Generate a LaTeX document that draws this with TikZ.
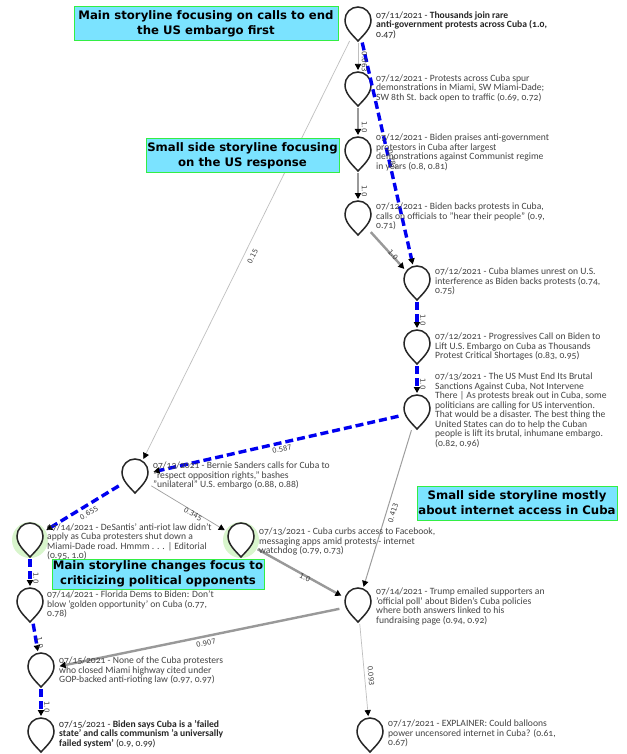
\documentclass[tikz,border=0pt]{standalone}
\usepackage{fontspec}
\setmainfont[Numbers=OldStyle]{Carlito}
\newfontfamily\boxfont{DejaVu Sans}
\newfontfamily\lablefont{DejaVu Sans}
\usetikzlibrary{arrows.meta}
\definecolor{bluee}{HTML}{0000F0}
\definecolor{txtgray}{HTML}{444444}
\definecolor{boxfill}{HTML}{7BE3FF}
\definecolor{boxline}{HTML}{33EE44}
\definecolor{halo}{HTML}{D8F5CC}
\tikzset{
  anchorbox/.style={circle,minimum size=38pt,inner sep=0pt,outer sep=0pt},
  tip/.style={-{Triangle[length=6pt,width=6.2pt,color=black]}},
  mainedge/.style={tip,draw=bluee,line width=3.4pt,dash pattern=on 8pt off 4pt},
  fatedge/.style={tip,draw=black!40,line width=2.4pt},
  midedge/.style={tip,draw=black!38,line width=1pt},
  thinedge/.style={tip,draw=black!25,line width=.7pt},
  wlab/.style={font=\lablefont\fontsize{7}{7}\selectfont,text=black!75,inner sep=0pt},
  desc/.style={anchor=north west,align=left,text=txtgray,inner sep=0pt,font=\fontsize{9.6}{9.45}\selectfont},
  bdesc/.style={desc,text=black!85},
  storybox/.style={draw=boxline,fill=boxfill,line width=1pt,align=center,inner sep=0pt,font=\boxfont\bfseries\fontsize{11.7}{15}\selectfont,text=black},
}
\newcommand{\teardrop}[3]{% name, cx, top
  \node[anchorbox] (#1) at (#2,#3+17) {};
  \draw[black!85,line width=1.5pt,line join=miter,fill=white]
    (#2,#3+34) .. controls (#2-6,#3+27.5) and (#2-13,#3+21.5) .. (#2-13,#3+13)
    arc[start angle=180,end angle=360,radius=13]
    .. controls (#2+13,#3+21.5) and (#2+6,#3+27.5) .. cycle;
}
\begin{document}
\begin{tikzpicture}[x=1pt,y=-1pt]
\useasboundingbox (0,0) rectangle (626,754);
\fill[white] (0,0) rectangle (626,754);
\fill[halo] (30,540) circle (18);
\fill[halo] (241,540) circle (18);
\teardrop{a}{358}{7}
\teardrop{b}{358}{72}
\teardrop{c}{358}{137}
\teardrop{d}{358}{201}
\teardrop{e}{417}{266}
\teardrop{f}{417}{330}
\teardrop{g}{417}{395}
\teardrop{h}{135}{459}
\teardrop{i}{30}{523}
\teardrop{j}{241}{523}
\teardrop{k}{30}{588}
\teardrop{l}{41}{653}
\teardrop{m}{41}{718}
\teardrop{n}{358}{588}
\teardrop{o}{370}{718}
% connectors
\draw[thinedge] (a) -- (b);
\draw[thinedge] (a) -- (h);
\draw[mainedge] (a) -- (e);
\draw[fatedge] (b) -- (c);
\draw[fatedge] (c) -- (d);
\draw[fatedge] (d) -- (e);
\draw[mainedge] (e) -- (f);
\draw[mainedge] (f) -- (g);
\draw[mainedge] (g) -- (h);
\draw[midedge] (g) -- (n);
\draw[mainedge] (h) -- (i);
\draw[midedge,line width=.7pt] (h) -- (j);
\draw[mainedge] (i) -- (k);
\draw[fatedge] (j) -- (n);
\draw[mainedge] (k) -- (l);
\draw[mainedge] (l) -- (m);
\draw[fatedge] (n) -- (l);
\draw[thinedge] (n) -- (o);
% weights
\node[wlab,rotate=-90] (wab) at (364.5,62) {0.063};
\node[wlab,rotate=-77] (wae) at (392,160) {0.787};
\node[wlab,rotate=63] (wah) at (252.7,256) {0.15};
\node[wlab,rotate=-90] (wbc) at (364.5,127) {1.0};
\node[wlab,rotate=-90] (wcd) at (364.5,191) {1.0};
\node[wlab,rotate=-48] (wde) at (393,255) {1.0};
\node[wlab,rotate=-90] (wef) at (423,320) {1.0};
\node[wlab,rotate=-90] (wfg) at (423,384) {1.0};
\node[wlab,rotate=13] (wgh) at (282,449) {0.587};
\node[wlab,rotate=73] (wgn) at (393,513) {0.413};
\node[wlab,rotate=31] (whi) at (89,513) {0.655};
\node[wlab,rotate=-31] (whj) at (193,514) {0.345};
\node[wlab,rotate=-90] (wik) at (36,578) {1.0};
\node[wlab,rotate=-25] (wjn) at (305,578) {1.0};
\node[wlab,rotate=-80] (wkl) at (40,643) {1.0};
\node[wlab,rotate=-90] (wlm) at (47,707) {1.0};
\node[wlab,rotate=14] (wnl) at (206,643) {0.907};
\node[wlab,rotate=-85] (wno) at (371,676) {0.093};
% descriptions
\node[bdesc] (ta) at (376,11.5) {07/11/2021 - \textbf{Thousands join rare}\\\textbf{anti-government protests across Cuba (1.0,}\\0.47)};
\node[desc] (tb) at (376,74.5) {07/12/2021 - Protests across Cuba spur\\demonstrations in Miami, SW Miami-Dade;\\SW 8th St. back open to traffic (0.69, 0.72)};
\node[desc] (tc) at (376,134) {07/12/2021 - Biden praises anti-government\\protestors in Cuba after largest\\demonstrations against Communist regime\\in years (0.8, 0.81)};
\node[desc] (td) at (376,203) {07/12/2021 - Biden backs protests in Cuba,\\calls on officials to "hear their people" (0.9,\\0.71)};
\node[desc] (te) at (435,268) {07/12/2021 - Cuba blames unrest on U.S.\\interference as Biden backs protests (0.74,\\0.75)};
\node[desc] (tf) at (435,333) {07/12/2021 - Progressives Call on Biden to\\Lift U.S. Embargo on Cuba as Thousands\\Protest Critical Shortages (0.83, 0.95)};
\node[desc] (tg) at (435,373) {07/13/2021 - The US Must End Its Brutal\\Sanctions Against Cuba, Not Intervene\\There | As protests break out in Cuba, some\\politicians are calling for US intervention.\\That would be a disaster. The best thing the\\United States can do to help the Cuban\\people is lift its brutal, inhumane embargo.\\(0.82, 0.96)};
\node[desc] (th) at (153,462) {07/13/2021 - Bernie Sanders calls for Cuba to\\"respect opposition rights," bashes\\"unilateral" U.S. embargo (0.88, 0.88)};
\node[desc] (ti) at (47,523.5) {07/14/2021 - DeSantis' anti-riot law didn't\\apply as Cuba protesters shut down a\\Miami-Dade road. Hmmm . . . | Editorial\\(0.95, 1.0)};
\node[desc] (tj) at (259,528) {07/13/2021 - Cuba curbs access to Facebook,\\messaging apps amid protests - internet\\watchdog (0.79, 0.73)};
\node[desc] (tk) at (47,591) {07/14/2021 - Florida Dems to Biden: Don't\\blow 'golden opportunity' on Cuba (0.77,\\0.78)};
\node[desc] (tl) at (59,657) {07/15/2021 - None of the Cuba protesters\\who closed Miami highway cited under\\GOP-backed anti-rioting law (0.97, 0.97)};
\node[bdesc] (tm) at (59,720) {07/15/2021 - \textbf{Biden says Cuba is a 'failed}\\\textbf{state' and calls communism 'a universally}\\\textbf{failed system'} (0.9, 0.99)};
\node[desc] (tn) at (376,588) {07/14/2021 - Trump emailed supporters an\\'official poll' about Biden's Cuba policies\\where both answers linked to his\\fundraising page (0.94, 0.92)};
\node[desc] (to) at (388,720) {07/17/2021 - EXPLAINER: Could balloons\\power uncensored internet in Cuba? (0.61,\\0.67)};
% story boxes
\node[storybox,minimum width=264pt,minimum height=34pt] (s1) at (206,24) {Main storyline focusing on calls to end\\the US embargo first};
\node[storybox,minimum width=193pt,minimum height=34pt] (s2) at (242.5,156) {Small side storyline focusing\\on the US response};
\node[storybox,minimum width=212pt,minimum height=30pt] (s3) at (158,574) {Main storyline changes focus to\\criticizing political opponents};
\node[storybox,minimum width=200pt,minimum height=34pt] (s4) at (517,503) {Small side storyline mostly\\about internet access in Cuba};
\end{tikzpicture}
\end{document}
